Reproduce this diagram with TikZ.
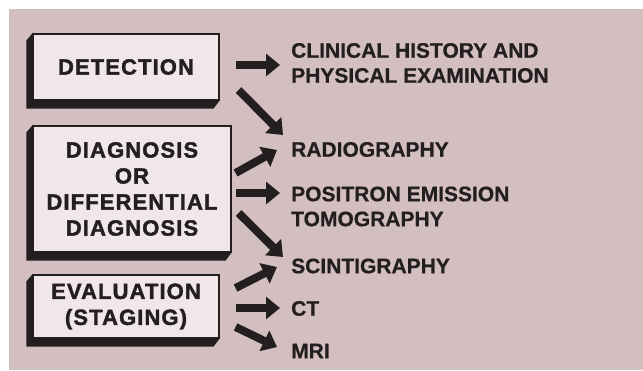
\documentclass[tikz,border=0pt]{standalone}
\usepackage{fontspec}
\setmainfont{Liberation Sans}[BoldFeatures={FakeBold=0.6}]
\newfontfamily\boxfont{Liberation Sans}[LetterSpace=5, BoldFeatures={FakeBold=1.8}]
\usetikzlibrary{arrows.meta, calc}

\definecolor{bgpink}{RGB}{211,190,192}
\definecolor{boxpink}{RGB}{241,231,233}
\definecolor{ink}{RGB}{35,31,32}

\tikzset{
  stagebox/.style={draw=ink, line width=1.2pt, fill=boxpink, inner sep=0pt,
    align=center, text=ink, font=\boxfont\bfseries\fontsize{22}{26}\selectfont},
  exam/.style={anchor=west, inner sep=0pt, align=left, text=ink,
    font=\bfseries\fontsize{21}{25}\selectfont},
  fat/.style={draw=ink, line width=8pt, -{Triangle[length=14pt, width=22pt]}},
}

\begin{document}
\begin{tikzpicture}[x=1pt, y=-1pt]
    \useasboundingbox (0,0) rectangle (643,370);
    \fill[bgpink] (9,9) rectangle (643,370);

    % the three stages
    \node[stagebox, minimum width=186pt, minimum height=66pt] (det) at (126,67) {DETECTION};
    \node[stagebox, minimum width=198pt, minimum height=126pt] (diag) at (132,189)
        {DIAGNOSIS\\OR\\DIFFERENTIAL\\DIAGNOSIS};
    \node[stagebox, minimum width=186pt, minimum height=63pt] (eval) at (126,306.5)
        {EVALUATION\\(STAGING)};

    % thick shadow on the left and bottom of each box
    \foreach \b in {det, diag, eval} {
        \fill[ink] (\b.north west) -- ++(-6,7) -- ($(\b.south west)+(-6,8)$)
            -- ($(\b.south east)+(-6,8)$) -- (\b.south east) -- (\b.south west) -- cycle;
    }

    % the examinations
    \node[exam] (clin) at (291,63) {CLINICAL HISTORY AND\\PHYSICAL EXAMINATION};
    \node[exam] (radio) at (291,149.5) {RADIOGRAPHY};
    \node[exam] (pet) at (291,206.5) {POSITRON EMISSION\\TOMOGRAPHY};
    \node[exam] (scint) at (291,266) {SCINTIGRAPHY};
    \node[exam] (ct) at (291,308.5) {CT};
    \node[exam] (mri) at (291,351) {MRI};

    % arrows
    \draw[fat] ($(det.east)+(16,-2)$) -- ($(clin.west)+(-11,2)$);
    \draw[fat] ($(det.east)+(19,23)$) -- ($(radio.west)+(-8,-14.5)$);
    \draw[fat] ($(diag.east)+(4,-16)$) -- ($(radio.west)+(-14,0.5)$);
    \draw[fat] ($(diag.east)+(4,4)$) -- ($(pet.west)+(-11,-13.5)$);
    \draw[fat] ($(diag.east)+(7,24)$) -- ($(scint.west)+(-8,-9)$);
    \draw[fat] ($(eval.east)+(16,-18.5)$) -- ($(scint.west)+(-14,1)$);
    \draw[fat] ($(eval.east)+(16,1.5)$) -- ($(ct.west)+(-11,-0.5)$);
    \draw[fat] ($(eval.east)+(16,20.5)$) -- ($(mri.west)+(-14,-4)$);
\end{tikzpicture}
\end{document}
